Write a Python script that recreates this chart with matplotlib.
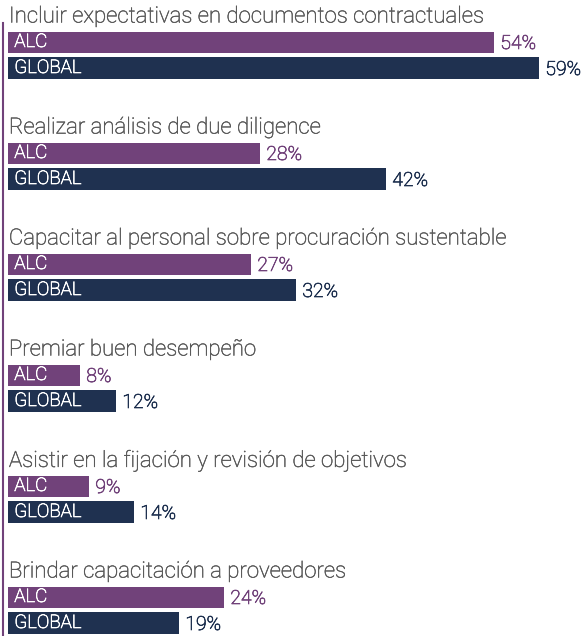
import numpy as np
import matplotlib.pyplot as plt
import matplotlib.patheffects as pe

# -------------------------------
# Data
# -------------------------------
categories = [
    'Incluir expectativas en documentos contractuales',
    'Realizar análisis de due diligence',
    'Capacitar al personal sobre procuración sustentable',
    'Premiar buen desempeño',
    'Asistir en la fijación y revisión de objetivos',
    'Brindar capacitación a proveedores',
]
alc = [54, 28, 27, 8, 9, 24]
global_vals = [59, 42, 32, 12, 14, 19]
series_names = ['ALC', 'GLOBAL']

PURPLE = '#71427a'
NAVY = '#1f3150'
GREY = '#585858'

plt.rcParams['font.family'] = ['Roboto', 'DejaVu Sans']


def thick(color, lw=0.5):
    # light weight plus a thin outline -> weight between light and regular
    return [pe.withStroke(linewidth=lw, foreground=color)]


# -------------------------------
# Layout (figure in pixels, 1% = 9 px)
# -------------------------------
W, H = 581, 636
fig = plt.figure(figsize=(W / 100, H / 100), dpi=100)
left_px = 8
ax = fig.add_axes([left_px / W, 0, (W - left_px) / W, 1])
ax.set_xlim(0, (W - left_px) / 9)
ax.set_ylim(H, 0)
ax.axis('off')

step = 111
title_y = 17 + step * np.arange(len(categories))
alc_y = title_y + 25
glob_y = title_y + 51

ax.barh(alc_y, alc, height=21, color=PURPLE)
ax.barh(glob_y, global_vals, height=22, color=NAVY)

for i, cat in enumerate(categories):
    ax.text(0.1, title_y[i], cat, fontsize=16, color=GREY, va='center',
            ha='left', fontweight='light', path_effects=thick(GREY, 0.35))
    ax.text(0.7, alc_y[i], series_names[0], fontsize=13.5, color='white',
            va='center', ha='left', fontweight='light',
            path_effects=thick('white'))
    ax.text(0.7, glob_y[i], series_names[1], fontsize=13.5, color='white',
            va='center', ha='left', fontweight='light',
            path_effects=thick('white'))
    ax.text(alc[i] + 0.7, alc_y[i] + 2, f'{alc[i]}%', fontsize=14,
            color=PURPLE, va='center', ha='left', fontweight='light',
            path_effects=thick(PURPLE))
    ax.text(global_vals[i] + 0.7, glob_y[i] + 2, f'{global_vals[i]}%',
            fontsize=14, color=NAVY, va='center', ha='left',
            fontweight='light', path_effects=thick(NAVY))

# vertical accent line on the left
fig.add_artist(plt.Line2D([3 / W, 3 / W], [0, 1 - 23 / H],
                          color=PURPLE, lw=1.5, transform=fig.transFigure))

fig.savefig('out.png', dpi=100)
